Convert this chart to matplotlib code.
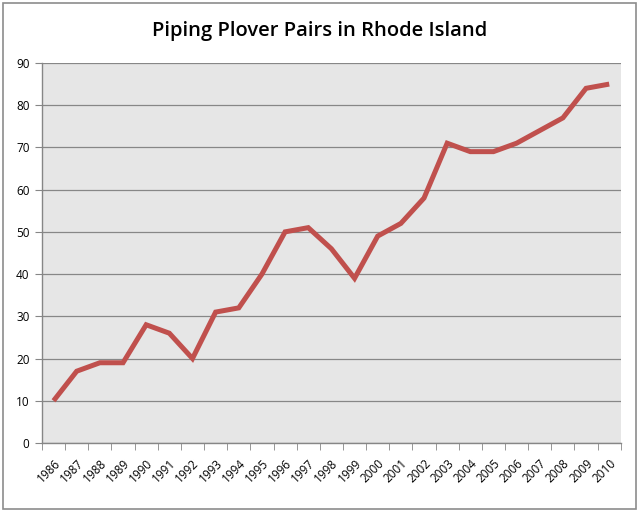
import matplotlib
matplotlib.use("Agg")
import matplotlib.pyplot as plt
import matplotlib.patches as mpatches
import numpy as np

# ── Data ─────────────────────────────────────────────────────────────────────
years = [str(y) for y in range(1986, 2011)]
pairs = [10, 17, 19, 19, 28, 26, 20, 31, 32, 40, 50, 51, 46, 39,
         49, 52, 58, 71, 69, 69, 71, 74, 77, 84, 85]
y_ticks = [0, 10, 20, 30, 40, 50, 60, 70, 80, 90]

# ── Style ────────────────────────────────────────────────────────────────────
LINE = "#c0504d"
PLOT_BG = "#e6e6e6"
GRID = "#878787"
AXIS = "#868686"
FONT = "Open Sans"

fig = plt.figure(figsize=(6.4, 5.12), dpi=100, facecolor="white")
ax = fig.add_axes([0.0656, 0.1348, 0.9044, 0.7422])
ax.set_facecolor(PLOT_BG)

x = np.arange(len(years))
ax.plot(x, pairs, color=LINE, linewidth=3.6, solid_joinstyle="miter",
        solid_capstyle="butt", zorder=3)

ax.set_xlim(-0.5, len(years) - 0.5)
ax.set_ylim(0, 90)
ax.set_yticks(y_ticks)
ax.set_yticklabels([str(v) for v in y_ticks], fontsize=8.5, family=FONT)
ax.grid(axis="y", color=GRID, linewidth=0.9, zorder=1)

# category ticks between points, labels at points
ax.set_xticks(x)
ax.set_xticklabels(years, rotation=45, ha="right", rotation_mode="anchor",
                   fontsize=8.5, family=FONT)
ax.set_xticks(np.arange(-0.5, len(years)), minor=True)
ax.tick_params(axis="x", which="major", length=0, pad=10)
ax.tick_params(axis="x", which="minor", length=5, color=AXIS, direction="out")
ax.tick_params(axis="y", length=5, color=AXIS, direction="out", pad=4)

for side in ("top", "right"):
    ax.spines[side].set_visible(False)
for side in ("left", "bottom"):
    ax.spines[side].set_color(AXIS)
    ax.spines[side].set_linewidth(1.0)

fig.text(0.5, 0.94, "Piping Plover Pairs in Rhode Island", ha="center",
         va="center", fontsize=14.5, family=FONT, fontweight="semibold")

# chart frame
fig.patches.append(mpatches.Rectangle((0.004, 0.006), 0.99, 0.988,
                                      transform=fig.transFigure, fill=False,
                                      edgecolor="#8c8c8c", linewidth=1.2))

fig.savefig("out.png", dpi=100, facecolor="white")
